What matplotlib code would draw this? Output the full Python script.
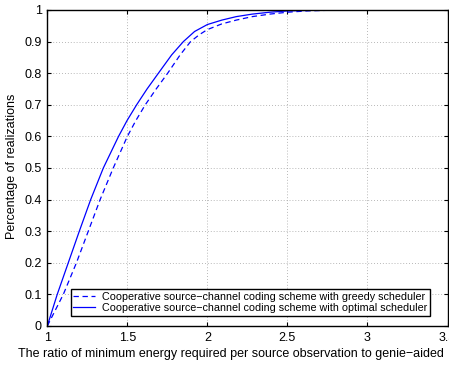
import matplotlib
matplotlib.use("Agg")
import matplotlib.pyplot as plt

plt.rcParams['font.family'] = ['Liberation Sans', 'DejaVu Sans']

# Optimal scheduler (solid)
opt_x = [1.0, 1.062, 1.131, 1.2, 1.271, 1.35, 1.445, 1.498, 1.558, 1.623, 1.694, 1.777, 1.85, 1.92, 2.0, 2.09, 2.18, 2.28, 2.39, 2.5, 2.65, 2.8, 3.5]
opt_y = [0.0, 0.1, 0.2, 0.3, 0.4, 0.5, 0.6, 0.65, 0.7, 0.75, 0.8, 0.858, 0.9, 0.932, 0.954, 0.968, 0.979, 0.987, 0.993, 0.997, 0.999, 1.0, 1.0]

# Greedy scheduler (dashed)
greedy_x = [1.0, 1.1, 1.182, 1.256, 1.33, 1.412, 1.5, 1.553, 1.612, 1.68, 1.752, 1.83, 1.895, 1.95, 2.0, 2.09, 2.18, 2.28, 2.39, 2.5, 2.62, 2.75, 2.9, 3.5]
greedy_y = [0.0, 0.1, 0.2, 0.3, 0.4, 0.5, 0.6, 0.65, 0.7, 0.75, 0.8, 0.858, 0.9, 0.922, 0.938, 0.956, 0.968, 0.979, 0.987, 0.993, 0.997, 0.999, 1.0, 1.0]

x_ticks = [1, 1.5, 2, 2.5, 3, 3.5]
x_ticklabels = ['1', '1.5', '2', '2.5', '3', '3.5']
y_ticks = [0, 0.1, 0.2, 0.3, 0.4, 0.5, 0.6, 0.7, 0.8, 0.9, 1]
y_ticklabels = ['0', '0.1', '0.2', '0.3', '0.4', '0.5', '0.6', '0.7', '0.8', '0.9', '1']

labels = ['Cooperative source\u2212channel coding scheme with greedy scheduler',
          'Cooperative source\u2212channel coding scheme with optimal scheduler']
xlabel = 'The ratio of minimum energy required per source observation to genie\u2212aided'
ylabel = 'Percentage of realizations'

fig = plt.figure(figsize=(4.49, 3.65), dpi=100)
ax = fig.add_axes([47.3/449, 39/365, (447.5-47.3)/449, 316/365])

ax.plot(greedy_x, greedy_y, color='#0000ff', lw=0.9, linestyle=(0, (4.3, 2.9)), label=labels[0])
ax.plot(opt_x, opt_y, color='#0000ff', lw=0.9, linestyle='-', label=labels[1])

ax.set_xlim(1, 3.5)
ax.set_ylim(0, 1)
ax.set_xticks(x_ticks)
ax.set_xticklabels(x_ticklabels)
ax.set_yticks(y_ticks)
ax.set_yticklabels(y_ticklabels)
ax.tick_params(direction='in', length=3, width=0.8, labelsize=9, pad=4,
               top=True, right=True, colors='black')
ax.grid(True, linestyle=(0, (1, 2.5)), color='#a0a0a0', lw=0.6)
for s in ax.spines.values():
    s.set_linewidth(1.0)
    s.set_color('black')

leg = ax.legend(loc='lower left', bbox_to_anchor=(0.058, 0.032), borderaxespad=0,
                fontsize=7.75, fancybox=False, framealpha=1, edgecolor='black',
                handlelength=2.0, handletextpad=0.7, borderpad=0.25, labelspacing=0.15)
leg.get_frame().set_linewidth(1.0)

fig.text(231/449, (365-356.5)/365, xlabel, ha='center', va='baseline', fontsize=9)
fig.text(12/449, (365-166.5)/365, ylabel, ha='center', va='center', rotation=90, fontsize=9)

fig.savefig('out.png', dpi=100)
